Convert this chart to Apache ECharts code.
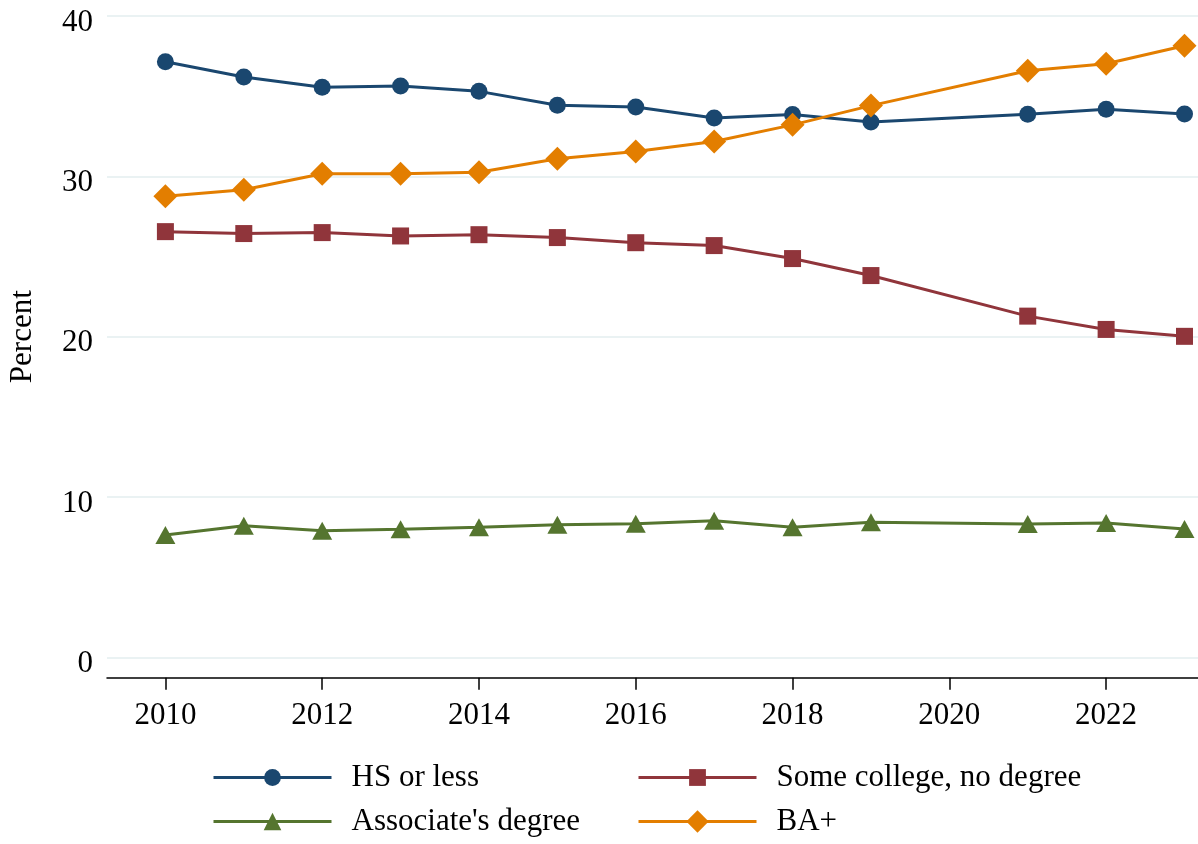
<!DOCTYPE html>
<html>
<head>
<meta charset="utf-8">
<script src="https://cdn.jsdelivr.net/npm/echarts@6/dist/echarts.min.js"></script>
<style>
html,body{margin:0;padding:0;background:#fff;}
#chart{width:1198px;height:844px;}
</style>
</head>
<body>
<div id="chart"></div>
<script>
var years = [2010, 2011, 2012, 2013, 2014, 2015, 2016, 2017, 2018, 2019, 2021, 2022, 2023];
var hsOrLess = [37.15, 36.19, 35.55, 35.63, 35.30, 34.43, 34.33, 33.64, 33.85, 33.39, 33.87, 34.18, 33.89];
var someCollege = [26.55, 26.43, 26.49, 26.28, 26.36, 26.18, 25.86, 25.68, 24.87, 23.81, 21.28, 20.45, 20.02];
var associates = [7.63, 8.21, 7.90, 7.98, 8.11, 8.27, 8.33, 8.52, 8.11, 8.42, 8.32, 8.38, 8.00];
var baPlus = [28.75, 29.16, 30.16, 30.16, 30.26, 31.09, 31.55, 32.17, 33.21, 34.41, 36.59, 37.02, 38.14];
var xTickLabels = [2010, 2012, 2014, 2016, 2018, 2020, 2022];
var seriesNames = ["HS or less", "Some college, no degree", "Associate's degree", "BA+"];

function pairs(vals) { return years.map(function (y, i) { return [y, vals[i]]; }); }

var FONT = '"Liberation Serif", "Times New Roman", serif';
var FS = 31;
var colors = ['#1a476f', '#90353b', '#55752f', '#e37e00'];

function mkLegend(name, left, top, ih) {
  return {
    data: [name], left: left, top: top, orient: 'horizontal', padding: 0,
    itemWidth: 118, itemHeight: ih, itemGap: 0,
    lineStyle: { width: 3 },
    textStyle: { fontFamily: FONT, fontSize: FS, color: '#000', padding: [0, 0, 0, 15], lineHeight: 30 }
  };
}

var chart = echarts.init(document.getElementById('chart'), null, { renderer: 'canvas' });
chart.setOption({
  animation: false,
  backgroundColor: '#fff',
  textStyle: { fontFamily: FONT },
  grid: { left: 107, right: 0, top: 16, bottom: 186.7, containLabel: false, outerBoundsMode: 'none' },
  legend: [
    mkLegend(seriesNames[0], 212, 762, 21),
    mkLegend(seriesNames[1], 637, 762, 21),
    mkLegend(seriesNames[2], 212, 806, 22),
    mkLegend(seriesNames[3], 637, 806, 28)
  ],
  xAxis: {
    type: 'value', min: 2009.255, max: 2023.172, offset: 20.4,
    axisLine: { show: true, onZero: false, lineStyle: { color: '#000', width: 1.5 } },
    axisTick: { show: true, length: 12, lineStyle: { color: '#000', width: 1.5 }, customValues: xTickLabels },
    axisLabel: { customValues: xTickLabels, fontFamily: FONT, fontSize: FS, color: '#000', margin: 23,
      formatter: function (v) { return String(v); } },
    splitLine: { show: false }
  },
  yAxis: {
    type: 'value', min: 0, max: 40, interval: 10,
    name: 'Percent', nameLocation: 'middle', nameGap: 68.5, nameRotate: 90,
    nameTextStyle: { fontFamily: FONT, fontSize: FS, color: '#000' },
    axisLine: { show: false }, axisTick: { show: false },
    axisLabel: { color: '#000', margin: 14,
      formatter: function (v) { return '{a|' + v + '}'; },
      rich: { a: { fontFamily: FONT, fontSize: FS, color: '#000', padding: [13, 0, 0, 0] } } },
    splitLine: { show: true, lineStyle: { color: '#eaf2f3', width: 2 } }
  },
  series: [
    { name: seriesNames[0], type: 'line', data: pairs(hsOrLess), symbol: 'circle', symbolSize: 17,
      color: colors[0], lineStyle: { width: 3, color: colors[0] }, itemStyle: { color: colors[0] }, z: 4 },
    { name: seriesNames[1], type: 'line', data: pairs(someCollege), symbol: 'rect', symbolSize: 17,
      color: colors[1], lineStyle: { width: 3, color: colors[1] }, itemStyle: { color: colors[1] }, z: 3 },
    { name: seriesNames[2], type: 'line', data: pairs(associates), symbol: 'triangle', symbolSize: [20, 18],
      color: colors[2], lineStyle: { width: 3, color: colors[2] }, itemStyle: { color: colors[2] }, z: 2 },
    { name: seriesNames[3], type: 'line', data: pairs(baPlus), symbol: 'diamond', symbolSize: [24, 24],
      color: colors[3], lineStyle: { width: 3, color: colors[3] }, itemStyle: { color: colors[3] }, z: 5 }
  ]
});
</script>
</body>
</html>
